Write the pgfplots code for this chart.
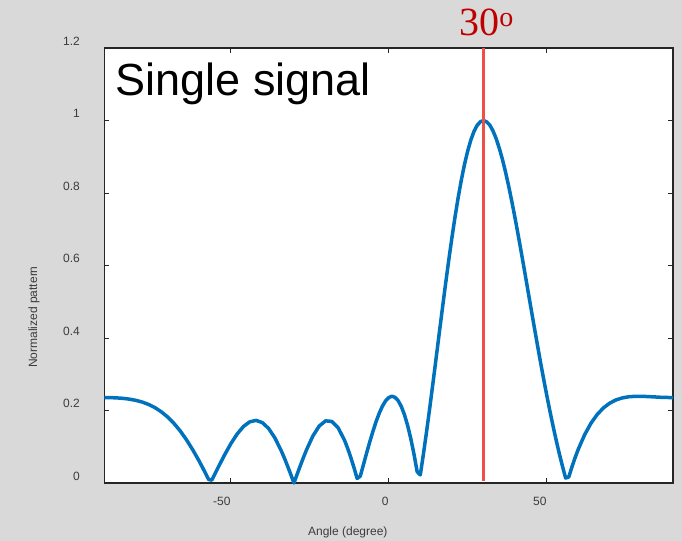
\documentclass[border=0pt]{standalone}
\usepackage{pgfplots}
\pgfplotsset{compat=1.18}
\usepackage{fontspec}
\setmainfont{Liberation Sans}
\newfontfamily\serifnum{Liberation Serif}
\definecolor{bgray}{RGB}{217,217,217}
\definecolor{mblue}{RGB}{0,114,189}
\definecolor{axgray}{RGB}{38,38,38}
\definecolor{lblgray}{RGB}{60,60,60}
\definecolor{vred}{RGB}{238,80,70}
\definecolor{dred}{RGB}{192,0,0}

\begin{document}
\begin{tikzpicture}[x=1bp,y=1bp]
\fill[bgray] (0,0) rectangle (682,541);
\begin{axis}[
  at={(104.4bp,58bp)}, anchor=south west,
  scale only axis, width=568.6bp, height=435bp,
  xmin=-90, xmax=90, ymin=0, ymax=1.2,
  axis background/.style={fill=white},
  axis line style={axgray, line width=1.2bp},
  xtick={-50,0,50}, xticklabels={-50,0,50},
  ytick={0,0.2,0.4,0.6,0.8,1,1.2},
  yticklabels={0\hspace{-8bp},0.2,0.4,0.6,0.8,1\hspace{-8bp},1.2},
  tick style={axgray, line width=0.8bp},
  major tick length=5bp,
  tick align=inside,
  tick pos=both,
  xticklabel pos=lower, yticklabel pos=left,
  ticklabel style={font=\fontsize{12bp}{14bp}\selectfont, text=lblgray, inner sep=0pt},
  xticklabel style={anchor=north east, yshift=-14bp},
  yticklabel style={anchor=east, xshift=-24.4bp, yshift=7bp},
  xlabel={Angle (degree)}, ylabel={Normalized pattern},
  label style={font=\fontsize{12bp}{14bp}\selectfont, text=lblgray, inner sep=0pt},
  xlabel style={at={(axis description cs:0.428,0)}, anchor=base, yshift=-53bp},
  ylabel style={at={(axis description cs:-0.1238,0.3816)}, anchor=center},
  clip=false,
]
% 6-element array, steered to 30 deg
\addplot[mblue, line width=3.5bp, line join=round] coordinates {
(-90,0.2357) (-88,0.2355) (-86,0.2347) (-84,0.2334) (-82,0.2312) (-80,0.2279)
(-78,0.2232) (-76,0.2167) (-74,0.2079) (-72,0.1965) (-70,0.1822) (-68,0.1646)
(-66,0.1436) (-64,0.1190) (-62,0.0911) (-60,0.0603) (-59,0.0438) (-58,0.0270)
(-57,0.0097) (-56,0.0078) (-55,0.0253) (-54,0.0428) (-52,0.0768) (-50,0.1081)
(-48,0.1349) (-46,0.1557) (-44,0.1687) (-42,0.1727) (-40,0.1666) (-38,0.1502)
(-36,0.1239) (-34,0.0886) (-33,0.0683) (-32,0.0464) (-31,0.0235) (-30,0)
(-29,0.0238) (-28,0.0474) (-27,0.0702) (-26,0.0919) (-24,0.1297) (-22,0.1572)
(-20,0.1714) (-18,0.1699) (-16,0.1520) (-14,0.1181) (-13,0.0958) (-12,0.0705)
(-11,0.0425) (-10,0.0126) (-9,0.0187) (-8,0.0506) (-7,0.0824) (-6,0.1133)
(-5,0.1424) (-4,0.1691) (-3,0.1924) (-2,0.2118) (-1,0.2264) (0,0.2357)
(1,0.2392) (2,0.2364) (3,0.2270) (4,0.2109) (5,0.1879) (6,0.1582)
(7,0.1220) (8,0.0796) (9,0.0313) (10,0.0223) (11,0.0806) (12,0.1426)
(13,0.2078) (14,0.2753) (15,0.3440) (16,0.4132) (17,0.4819) (18,0.5492)
(19,0.6143) (20,0.6763) (21,0.7344) (22,0.7880) (23,0.8364) (24,0.8792)
(25,0.9158) (26,0.9462) (27,0.9700) (28,0.9866) (29,0.9963) (30,1)
(31,0.9962) (32,0.9874) (33,0.9716) (34,0.9502) (35,0.9237) (36,0.8926)
(37,0.8571) (38,0.8178) (39,0.7755) (40,0.7304) (41,0.6833) (42,0.6346)
(43,0.5849) (44,0.5345) (45,0.4840) (46,0.4339) (47,0.3845) (48,0.3359)
(49,0.2888) (50,0.2434) (51,0.1996) (52,0.1580) (53,0.1184) (54,0.0811)
(55,0.0462) (56,0.0137) (57,0.0165) (58,0.0443) (59,0.0698) (60,0.0930)
(62,0.1328) (64,0.1645) (66,0.1890) (68,0.2074) (70,0.2205) (72,0.2294)
(74,0.2348) (76,0.2379) (78,0.2391) (80,0.2391) (82,0.2384) (84,0.2375)
(86,0.2365) (88,0.2359) (90,0.2357)
};
% marker line at the steering angle
\addplot[vred, line width=2.2bp] coordinates {(30,0.005) (30,0.6) (30,1.2)};
\node[anchor=base west, inner sep=0pt, font=\fontsize{45bp}{50bp}\selectfont]
  at (axis cs:-86.5,1.0703) {Single signal};
\node[anchor=base, inner sep=0pt, text=dred, font=\serifnum\fontsize{40bp}{42bp}\selectfont]
  at (axis cs:31,1.2331) {30\textsuperscript{o}};
\end{axis}
\end{tikzpicture}
\end{document}
